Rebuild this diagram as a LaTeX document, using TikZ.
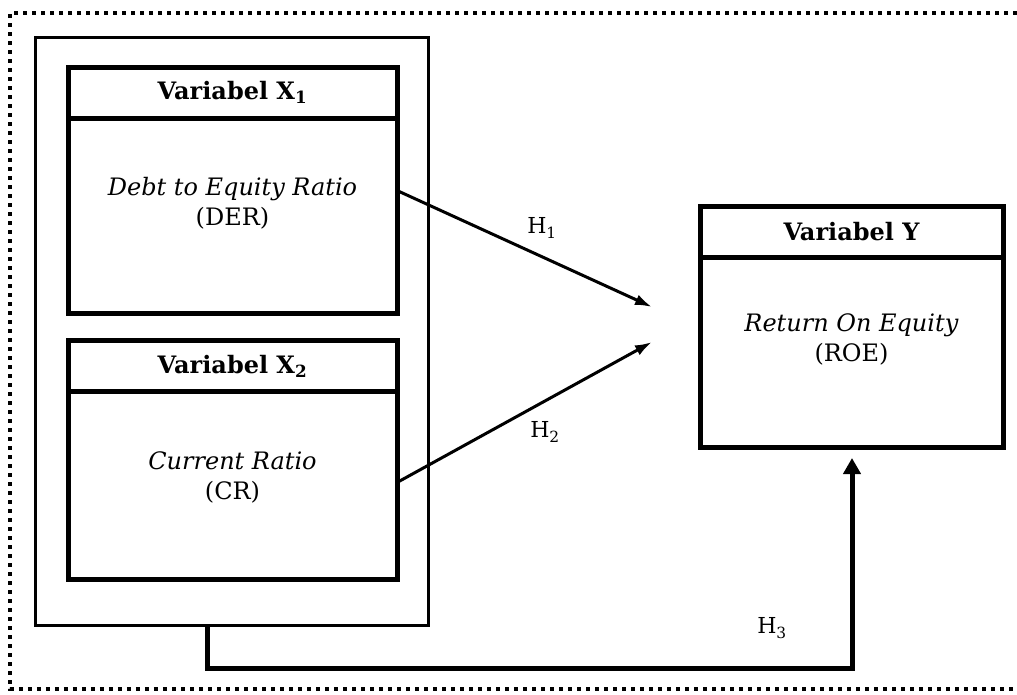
\documentclass[tikz,border=0pt]{standalone}
\usepackage{fontspec}
\setmainfont{DejaVu Serif}
\usetikzlibrary{arrows.meta,positioning}
\tikzset{var head/.style={draw, line width=5pt, outer sep=0pt, inner sep=0pt,
    minimum width=329pt, minimum height=51pt, font=\bfseries\fontsize{24}{28}\selectfont},
  var body/.style={draw, line width=5pt, outer sep=0pt, inner sep=0pt, minimum width=329pt},
  var text/.style={align=center, font=\fontsize{24}{30}\selectfont},
  hyp/.style={line width=3pt, -{Latex[length=17pt,width=11pt]}},
  hyp label/.style={font=\fontsize{22}{24}\selectfont}}

\begin{document}
\begin{tikzpicture}[x=1pt, y=-1pt]
        \useasboundingbox (0,0) rectangle (1017,694);
        \draw[line width=4pt, dash pattern=on 4pt off 5pt] (1017,13) -- (10,13) -- (10,689) -- (1017,689);

        \node[draw, line width=3pt, minimum width=393pt, minimum height=588pt] (outer) at (231.5, 331) {};

        \node[var head] (x1h) at (232.5, 92.5) {Variabel X\textsubscript{1}};
        \node[var body, minimum height=195pt, below=0pt of x1h] (x1b) {};
        \node[var text] (der) at (232.5, 203) {\textit{Debt to Equity Ratio}\\(DER)};

        \node[var head] (x2h) at (232.5, 366) {Variabel X\textsubscript{2}};
        \node[var body, minimum height=188pt, below=0pt of x2h] (x2b) {};
        \node[var text] (cr) at (232.5, 477) {\textit{Current Ratio}\\(CR)};

        \node[var head, minimum width=303pt] (yh) at (851.5, 231.5) {Variabel Y};
        \node[var body, minimum width=303pt, minimum height=190pt, below=0pt of yh] (yb) {};
        \node[var text] (roe) at (851.5, 339) {\textit{Return On Equity}\\(ROE)};

        \coordinate (h1end) at (652, 307);
        \coordinate (h2end) at (652, 342);
        \coordinate (h3start) at (207, 625);
        \coordinate (h3end) at (852, 458);

        \draw[hyp] ([yshift=25pt]x1b.east) -- (h1end);
        \draw[hyp] ([yshift=3pt]x2b.east) -- (h2end);
        \draw[line width=5pt, -{Triangle[length=16pt,width=17pt]}] (h3start) -- ++(0,43) -| (h3end);

        \node[hyp label] (h1) at (542, 228) {H\textsubscript{1}};
        \node[hyp label] (h2) at (545, 432) {H\textsubscript{2}};
        \node[hyp label] (h3) at (772, 628) {H\textsubscript{3}};
    \end{tikzpicture}
\end{document}
